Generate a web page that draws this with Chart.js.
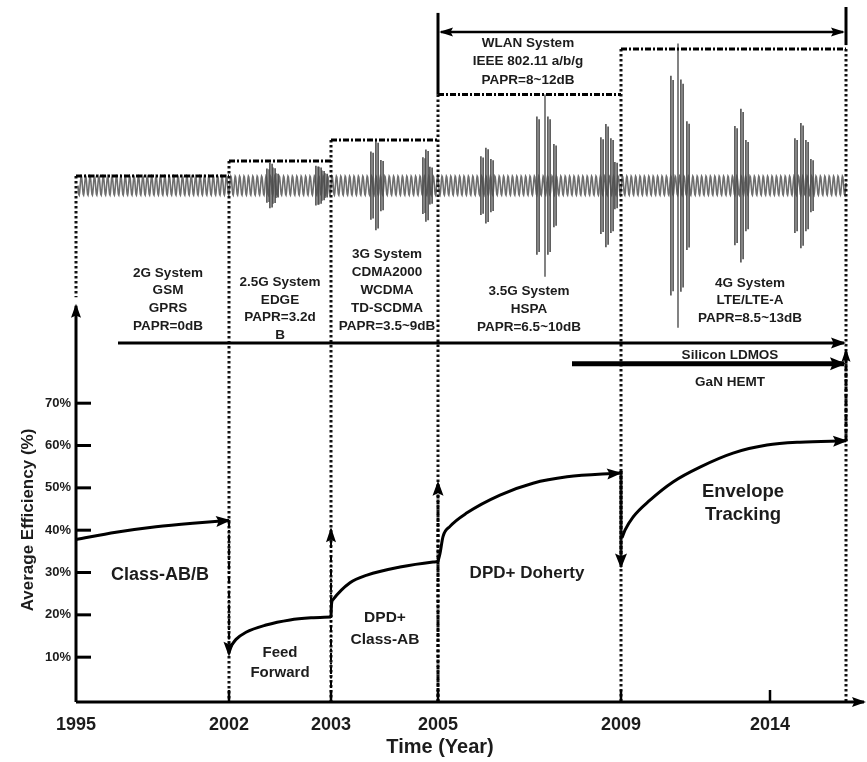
<!DOCTYPE html>
<html>
<head>
<meta charset="utf-8">
<script src="https://cdn.jsdelivr.net/npm/chart.js@4.4.1/dist/chart.umd.min.js"></script>
<style>
  html, body { margin: 0; padding: 0; background: #fff; }
  canvas { display: block; }
</style>
</head>
<body>
<canvas id="c" width="867" height="762"></canvas>
<script>
// ---- timeline axis (non-uniform year spacing) ----
const YEAR_LABELS = ['1995', '2002', '2003', '2005', '2009', '2014'];
const YEAR_POS    = [0, 153, 255, 362, 545, 694];
const TIMELINE_END = 770;
const EFF_TICKS   = [10, 20, 30, 40, 50, 60, 70];

// ---- average efficiency (%) of each PA architecture ----
const CLASS_AB_B   = [[0, 37.8], [40, 39.5], [80, 40.8], [120, 41.7], [153, 42.3]];
const FEED_FORWARD = [[154, 12.3], [160, 14.2], [170, 15.9], [190, 17.6], [214, 18.8], [235, 19.3], [255, 19.5]];
const DPD_CLASS_AB = [[255, 19.5], [255.5, 22.5], [257, 23.6], [274, 27.6], [291, 29.4], [324, 31.3], [357, 32.5], [362, 32.6]];
const DPD_DOHERTY  = [[362, 32.6], [364, 34.5], [367, 38.5], [374, 40.9], [391, 44.1], [424, 48.3], [457, 51.1], [491, 52.6], [544, 53.5]];
const ENVELOPE_TR  = [[546, 38.2], [549, 40.0], [557, 43.1], [574, 47.1], [597, 51.4], [624, 54.9], [657, 58.2], [691, 60.1], [724, 60.8], [770, 61.1]];

// ---- transitions between architectures ----
const DROP_2002 = [[153, 42.3], [153, 10.6]];
const RISE_2003 = [[255, -0.6], [255, 40.2]];
const RISE_2005 = [[362, -0.6], [362, 51.2]];
const DROP_2009 = [[545, 54.0], [545, 31.4]];
const RISE_END  = [[770, 61.1], [770, 82.4]];

// ---- standard generations: frame edges and box tops ----
const SYSTEM_EDGES = [0, 153, 255, 362, 545, 770];
const SYSTEM_TOPS  = [123.7, 127.2, 132.2, 142.9, 153.7];

// ---- device technology and WLAN spans ----
const LDMOS_SPAN = [[42, 84.2], [768, 84.2]];
const GAN_SPAN   = [[496, 79.3], [768, 79.3]];
const WLAN_SPAN  = [[365, 157.7], [767, 157.7]];
const WLAN_BARS  = [[[362, 142.9], [362, 162.2]], [[770, 154.6], [770, 163.6]]];

// ---- signal sketch: carrier and PAPR bursts (amplitude relative to carrier) ----
const CARRIER = { y: 121.4, unit: 2.24, period: 4.4, from: 2 };
const BURSTS = [
  { x: 195, spikes: [[-3, 1.8], [0, 2.4], [3, 1.9], [6, 1.3]] },
  { x: 244, spikes: [[-3, 2.1], [0, 2.0], [3, 1.6], [6, 1.3]] },
  { x: 301, spikes: [[-5, 3.6], [0, 4.7], [5, 2.7]] },
  { x: 351, spikes: [[-3, 3.0], [0, 3.8], [4, 2.0]] },
  { x: 411, spikes: [[-5, 3.1], [0, 4.0], [5, 2.8]] },
  { x: 469, spikes: [[-7, 7.3], [0, 9.6, 1], [4, 7.3], [10, 4.4]] },
  { x: 531, spikes: [[-5, 5.1], [0, 6.5], [5, 5.0], [9, 2.5]] },
  { x: 602, spikes: [[-6, 11.6], [0, 15.0, 1], [4, 11.2], [10, 6.8]] },
  { x: 666, spikes: [[-6, 6.3], [0, 8.1], [5, 4.8]] },
  { x: 726, spikes: [[-6, 5.0], [0, 6.6], [5, 4.8], [10, 2.8]] }
];

const FONT = '"Liberation Sans", Arial, Helvetica, sans-serif';
const INK = '#1c1c1c';

const NOTES = [
  { x: 92,  y: 100.8, gap: 17.8, size: 13.5, lines: ['2G System', 'GSM', 'GPRS', 'PAPR=0dB'] },
  { x: 204, y: 98.6,  gap: 17.7, size: 13.5, lines: ['2.5G System', 'EDGE', 'PAPR=3.2d', 'B'] },
  { x: 311, y: 105.25, gap: 18,  size: 13.5, lines: ['3G System', 'CDMA2000', 'WCDMA', 'TD-SCDMA', 'PAPR=3.5~9dB'] },
  { x: 453, y: 96.5,  gap: 18,   size: 13.5, lines: ['3.5G System', 'HSPA', 'PAPR=6.5~10dB'] },
  { x: 674, y: 98.4,  gap: 17.5, size: 13.5, lines: ['4G System', 'LTE/LTE-A', 'PAPR=8.5~13dB'] },
  { x: 452, y: 155.1, gap: 18.5, size: 13.5, lines: ['WLAN System', 'IEEE 802.11 a/b/g', 'PAPR=8~12dB'] },
  { x: 654, y: 81.4,  gap: 0,    size: 13.5, lines: ['Silicon LDMOS'] },
  { x: 654, y: 75.0,  gap: 0,    size: 13.5, lines: ['GaN HEMT'] },
  { x: 84,  y: 29.4,  gap: 0,    size: 18,   lines: ['Class-AB/B'] },
  { x: 204, y: 11.0,  gap: 20,   size: 15,   lines: ['Feed', 'Forward'] },
  { x: 309, y: 19.25, gap: 22,   size: 15.5, lines: ['DPD+', 'Class-AB'] },
  { x: 451, y: 29.9,  gap: 0,    size: 17,   lines: ['DPD+ Doherty'] },
  { x: 667, y: 49.0,  gap: 23,   size: 18.5, lines: ['Envelope', 'Tracking'] }
];

const pts = a => a.map(([x, y]) => ({ x, y }));

// frame outlines built from the generation edges
const frameTops = [];
SYSTEM_TOPS.forEach((t, i) => {
  frameTops.push({ x: SYSTEM_EDGES[i], y: t }, { x: SYSTEM_EDGES[i + 1], y: t }, { x: SYSTEM_EDGES[i + 1], y: null });
});
const frameSides = [];
SYSTEM_EDGES.forEach((e, j) => {
  const top = Math.max(j > 0 ? SYSTEM_TOPS[j - 1] : -1, j < SYSTEM_TOPS.length ? SYSTEM_TOPS[j] : -1);
  const bottom = j === 0 ? 95 : -0.6;
  frameSides.push({ x: e, y: top }, { x: e, y: bottom }, { x: e, y: null });
});

const curve = (data) => ({
  data: pts(data), borderColor: '#000', borderWidth: 3, cubicInterpolationMode: 'monotone',
  arrow: 'end', head: [13, 11]
});
const line = (data, width, dash, arrow, head) => ({
  data: pts(data), borderColor: '#000', borderWidth: width, borderDash: dash || [],
  tension: 0, arrow: arrow || null, head: head || [12, 10]
});

const datasets = [
  curve(CLASS_AB_B),
  Object.assign(curve(FEED_FORWARD), { arrow: null }),
  Object.assign(curve(DPD_CLASS_AB), { arrow: null }),
  curve(DPD_DOHERTY),
  curve(ENVELOPE_TR),
  line(DROP_2002, 2.2, [7, 2.5, 2, 2.5], 'end', [13, 11]),
  line(RISE_2003, 2, [7, 2.5, 2, 2.5], 'end', [13, 10]),
  line(RISE_2005, 3, [3, 2.5], 'end', [13, 11]),
  line(DROP_2009, 3.5, [3, 2], 'end', [13, 12]),
  line(RISE_END, 3, [5, 2], 'end', [11, 9]),
  line([[0, -0.59], [0, 93.0]], 3, null, 'end', [12, 10]),
  line([[0, -0.59], [788, -0.59]], 3, null, 'end', [12, 10]),
  line(LDMOS_SPAN, 3, null, 'end', [13, 11]),
  line(GAN_SPAN, 5, null, 'end', [14, 13]),
  line(WLAN_SPAN, 2.5, null, 'both', [12, 9]),
  line(WLAN_BARS[0], 3),
  line(WLAN_BARS[1], 3),
  { data: frameTops, borderColor: '#000', borderWidth: 3, borderDash: [6, 2, 2, 2], spanGaps: false, tension: 0 },
  { data: frameSides, borderColor: '#111', borderWidth: 3, borderDash: [2.5, 2.5], spanGaps: false, tension: 0 }
];

function arrowHead(ctx, fx, fy, tx, ty, len, w) {
  const a = Math.atan2(ty - fy, tx - fx);
  ctx.save();
  ctx.translate(tx, ty);
  ctx.rotate(a);
  ctx.beginPath();
  ctx.moveTo(2, 0);
  ctx.lineTo(-len, -w / 2);
  ctx.lineTo(-len * 0.8, 0);
  ctx.lineTo(-len, w / 2);
  ctx.closePath();
  ctx.fillStyle = '#000';
  ctx.fill();
  ctx.restore();
}

const diagram = {
  id: 'diagram',
  beforeDatasetsDraw(chart) {
    const { ctx, scales: { x, y } } = chart;
    const cy = y.getPixelForValue(CARRIER.y);
    const u = cy - y.getPixelForValue(CARRIER.y + CARRIER.unit);
    const x0 = x.getPixelForValue(CARRIER.from), x1 = x.getPixelForValue(TIMELINE_END);
    ctx.save();
    ctx.strokeStyle = '#6e6e6e';
    ctx.lineWidth = 1.6;
    ctx.beginPath();
    for (let px = x0; px <= x1; px += 0.4) {
      const py = cy + u * Math.sin((px - x0) / CARRIER.period * 2 * Math.PI);
      if (px === x0) ctx.moveTo(px, py); else ctx.lineTo(px, py);
    }
    ctx.stroke();
    BURSTS.forEach(b => {
      b.spikes.forEach(([dx, amp, thin]) => {
        const sx = x.getPixelForValue(b.x + dx);
        const h = amp * u;
        ctx.strokeStyle = '#4e4e4e';
        if (thin) {
          ctx.lineWidth = 1.4;
          ctx.beginPath(); ctx.moveTo(sx, cy - h); ctx.lineTo(sx, cy + h); ctx.stroke();
        } else {
          ctx.lineWidth = 1.6;
          ctx.beginPath();
          ctx.moveTo(sx - 1.1, cy - h); ctx.lineTo(sx - 1.1, cy + h);
          ctx.moveTo(sx + 1.1, cy - h * 0.96); ctx.lineTo(sx + 1.1, cy + h * 0.96);
          ctx.stroke();
        }
      });
    });
    ctx.restore();
  },
  afterDatasetsDraw(chart) {
    const { ctx, scales: { x, y } } = chart;
    ctx.save();
    // arrowheads at the ends of marked datasets
    chart.data.datasets.forEach((ds, i) => {
      if (!ds.arrow) return;
      const el = chart.getDatasetMeta(i).data;
      const n = el.length;
      const [len, w] = ds.head;
      const last = el[n - 1], prev = el[n - 2];
      let fx = prev.x, fy = prev.y;
      if (last.cp1x !== undefined && Math.hypot(last.cp1x - last.x, last.cp1y - last.y) > 0.5) {
        fx = last.cp1x; fy = last.cp1y;
      }
      arrowHead(ctx, fx, fy, last.x, last.y, len, w);
      if (ds.arrow === 'both') arrowHead(ctx, el[1].x, el[1].y, el[0].x, el[0].y, len, w);
    });
    // inward tick marks
    ctx.strokeStyle = '#000';
    ctx.lineWidth = 3;
    const ax = x.getPixelForValue(0);
    EFF_TICKS.forEach(v => {
      const py = y.getPixelForValue(v);
      ctx.beginPath(); ctx.moveTo(ax, py); ctx.lineTo(ax + 15, py); ctx.stroke();
    });
    const ay = y.getPixelForValue(-0.59);
    ctx.lineWidth = 2.5;
    YEAR_POS.slice(1).forEach(v => {
      const px = x.getPixelForValue(v);
      ctx.beginPath(); ctx.moveTo(px, ay); ctx.lineTo(px, ay - 12); ctx.stroke();
    });
    // notes
    ctx.fillStyle = INK;
    ctx.textAlign = 'center';
    ctx.textBaseline = 'middle';
    NOTES.forEach(n => {
      ctx.font = `bold ${n.size}px ${FONT}`;
      const px = x.getPixelForValue(n.x), py = y.getPixelForValue(n.y);
      n.lines.forEach((t, k) => ctx.fillText(t, px, py + k * n.gap));
    });
    // axis titles
    ctx.font = `bold 20px ${FONT}`;
    ctx.fillText('Time (Year)', 440, 747);
    ctx.translate(28, 520);
    ctx.rotate(-Math.PI / 2);
    ctx.font = `bold 17px ${FONT}`;
    ctx.fillText('Average Efficiency (%)', 0, 0);
    ctx.restore();
  }
};

const noPad = s => { s.paddingTop = 0; s.paddingBottom = 0; s.paddingLeft = 0; s.paddingRight = 0; };

new Chart(document.getElementById('c'), {
  type: 'line',
  data: { datasets },
  options: {
    responsive: false,
    animation: false,
    events: [],
    layout: { padding: 0, autoPadding: false },
    elements: { point: { radius: 0, hoverRadius: 0 }, line: { borderCapStyle: 'butt', borderJoinStyle: 'miter' } },
    datasets: { line: { clip: false, fill: false } },
    plugins: { legend: { display: false }, tooltip: { enabled: false } },
    scales: {
      x: {
        type: 'linear', min: 0, max: 791,
        grid: { display: false, drawTicks: false },
        border: { display: false },
        ticks: {
          autoSkip: false, maxRotation: 0, padding: 12, color: INK,
          font: { family: FONT, size: 18, weight: 'bold' },
          callback: (v, i) => YEAR_LABELS[i]
        },
        afterBuildTicks: s => { s.ticks = YEAR_POS.map(v => ({ value: v })); },
        afterFit: s => { s.height = 60; noPad(s); }
      },
      y: {
        type: 'linear', min: -0.59, max: 165.25,
        grid: { display: false, drawTicks: false },
        border: { display: false },
        ticks: {
          padding: 5, color: INK,
          font: { family: FONT, size: 13, weight: 'bold' },
          callback: v => v + '%'
        },
        afterBuildTicks: s => { s.ticks = EFF_TICKS.map(v => ({ value: v })); },
        afterFit: s => { s.width = 76; noPad(s); }
      }
    }
  },
  plugins: [diagram]
});
</script>
</body>
</html>
